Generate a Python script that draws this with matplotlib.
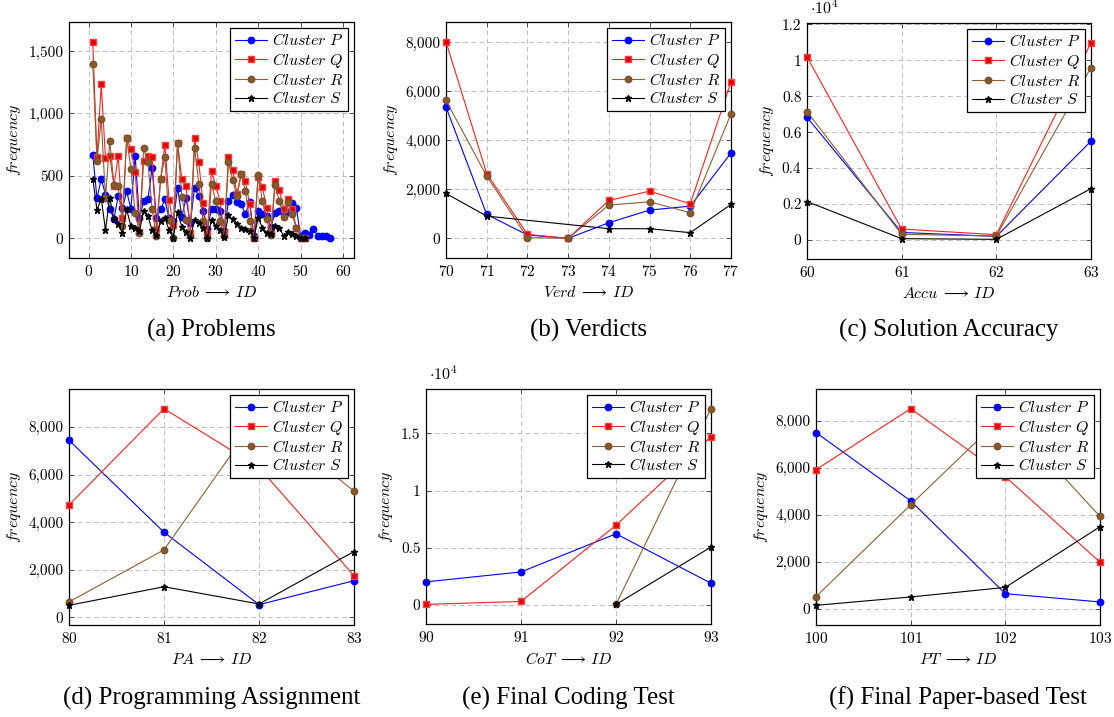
import numpy as np
import matplotlib
matplotlib.use("Agg")
import matplotlib.pyplot as plt
from matplotlib.ticker import FuncFormatter, FixedLocator

plt.rcParams['mathtext.fontset'] = 'cm'
plt.rcParams['font.family'] = ['cmr10', 'DejaVu Serif']
plt.rcParams['axes.formatter.use_mathtext'] = True

# ---------------- data ----------------
# (a) Problems
prob_ids_p = list(range(1, 58))
prob_ids_qrs = list(range(1, 52))
prob_p = [670, 320, 476, 350, 236, 157, 337, 239, 377, 236, 661, 159, 297, 311, 563, 159, 231, 311, 159, 138,
          404, 173, 324, 119, 404, 337, 218, 72, 236, 235, 215, 60, 297, 345, 289, 271, 196, 292, 19, 218,
          191, 178, 93, 204, 218, 218, 210, 284, 244, 19, 45, 30, 77, 22, 20, 15, 5]
prob_q = [1575, 652, 1232, 644, 661, 422, 661, 165, 802, 714, 531, 53, 619, 661, 648, 77, 475, 749, 303, 106,
          767, 475, 422, 45, 802, 608, 279, 45, 536, 420, 300, 40, 648, 544, 358, 518, 457, 271, 0, 491,
          412, 244, 45, 457, 390, 236, 316, 236, 85, 5, 5]
prob_r = [1399, 622, 955, 324, 780, 430, 417, 98, 802, 555, 204, 45, 722, 608, 231, 19, 475, 650, 143, 5,
          767, 329, 146, 19, 727, 438, 135, 5, 435, 300, 140, 15, 608, 470, 337, 512, 377, 138, 0, 510,
          297, 151, 24, 427, 297, 173, 289, 191, 85, 5, 5]
prob_s = [479, 226, 319, 66, 324, 155, 111, 45, 231, 98, 80, 58, 218, 178, 66, 24, 138, 165, 66, 5,
          210, 93, 50, 5, 146, 125, 85, 5, 143, 95, 70, 10, 186, 151, 111, 85, 72, 58, 0, 165,
          85, 45, 32, 98, 85, 19, 53, 32, 19, 5, 5]

# (b) Verdicts
verd_ids = [70, 71, 72, 73, 74, 75, 76, 77]
verd_p = [5357, 976, 136, 0, 637, 1153, 1315, 3485]
verd_q = [8027, 2644, 163, 0, 1546, 1925, 1410, 6387]
verd_r = [5627, 2536, 27, 0, 1356, 1492, 1044, 5085]
verd_s = [1831, 908, np.nan, np.nan, 393, 393, 231, 1383]

# (c) Solution Accuracy
accu_ids = [60, 61, 62, 63]
accu_p = [6830, 420, 200, 5500]
accu_q = [10190, 609, 295, 10981]
accu_r = [7143, 314, 221, 9598]
accu_s = [2141, 74, 37, 2860]

# (d) Programming Assignment
pa_ids = [80, 81, 82, 83]
pa_p = [7441, 3575, 532, 1537]
pa_q = [4720, 8768, 6300, 1746]
pa_r = [645, 2835, 8500, 5300]
pa_s = [503, 1285, 560, 2764]

# (e) Final Coding Test
cot_ids = [90, 91, 92, 93]
cot_p = [2027, 2896, 6226, 1911]
cot_q = [60, 319, 6977, 14711]
cot_r = [np.nan, np.nan, 58, 17169]
cot_s = [np.nan, np.nan, 58, 5067]

# (f) Final Paper-based Test
pt_ids = [100, 101, 102, 103]
pt_p = [7505, 4597, 648, 296]
pt_q = [5926, 8520, 5630, 1989]
pt_r = [521, 4428, 8300, 3936]
pt_s = [152, 508, 915, 3497]

series_names = [r'$Cluster\ P$', r'$Cluster\ Q$', r'$Cluster\ R$', r'$Cluster\ S$']
captions = ['(a) Problems', '(b) Verdicts', '(c) Solution Accuracy',
            '(d) Programming Assignment', '(e) Final Coding Test', '(f) Final Paper-based Test']
xlabels = [r'$Prob\;\longrightarrow\,ID$', r'$Verd\;\longrightarrow\,ID$', r'$Accu\;\longrightarrow\,ID$',
           r'$PA\;\longrightarrow\,ID$', r'$CoT\;\longrightarrow\,ID$', r'$PT\;\longrightarrow\,ID$']

# ---------------- styles ----------------
BROWN = '#8b5a2b'
styles = [
    dict(color='#0000ff', marker='o', markersize=4.6, markerfacecolor='#0000ff', markeredgecolor='#0000ff'),
    dict(color='#ff2020', marker='s', markersize=4.6, markerfacecolor='#e00000', markeredgecolor='#ff4040'),
    dict(color='#8c5f35', marker='o', markersize=4.6, markerfacecolor=BROWN, markeredgecolor='#7a5028'),
    dict(color='black', marker='*', markersize=4.5, markerfacecolor='black', markeredgecolor='black'),
]

W, H = 1114, 717
fig = plt.figure(figsize=(W / 100, H / 100), dpi=100)


def rect(l, t, r, b):
    return [l / W, 1 - b / H, (r - l) / W, (b - t) / H]


boxes = [(69, 22, 354, 258), (446, 22, 731, 258), (807, 23, 1091, 259),
         (69, 389, 354, 625), (426, 389, 711, 624), (816, 389, 1100, 625)]

panels = [
    ([prob_ids_p, prob_ids_qrs, prob_ids_qrs, prob_ids_qrs], [prob_p, prob_q, prob_r, prob_s]),
    ([verd_ids] * 4, [verd_p, verd_q, verd_r, verd_s]),
    ([accu_ids] * 4, [accu_p, accu_q, accu_r, accu_s]),
    ([pa_ids] * 4, [pa_p, pa_q, pa_r, pa_s]),
    ([cot_ids] * 4, [cot_p, cot_q, cot_r, cot_s]),
    ([pt_ids] * 4, [pt_p, pt_q, pt_r, pt_s]),
]

comma_fmt = FuncFormatter(lambda v, p: f'{int(round(v)):,}')
sci_fmt = FuncFormatter(lambda v, p: (f'{v/1e4:g}'))

for i, (box, (xs, ys)) in enumerate(zip(boxes, panels)):
    ax = fig.add_axes(rect(*box))
    for x, y, st, name in zip(xs, ys, styles, series_names):
        x = np.asarray(x, float)
        y = np.asarray(y, float)
        m = ~np.isnan(y)
        ax.plot(x[m], y[m], lw=0.8, label=name, zorder=3, clip_on=False, **st)
    ax.margins(x=0.1 if i == 0 else 0.0, y=0.1)
    ax.grid(True, color='#bdbdbd', linestyle=(0, (5, 3.5)), linewidth=0.7, zorder=0)
    ax.set_axisbelow(True)
    ax.tick_params(direction='in', top=True, right=True, length=3.5, width=0.6,
                   labelsize=11, pad=4, color='#333333')
    for sp in ax.spines.values():
        sp.set_linewidth(0.9)
    if i == 0:
        ax.xaxis.set_major_locator(FixedLocator([0, 10, 20, 30, 40, 50, 60]))
        ax.yaxis.set_major_locator(FixedLocator([0, 500, 1000, 1500]))
        ax.yaxis.set_major_formatter(comma_fmt)
    else:
        ax.xaxis.set_major_locator(FixedLocator(xs[0]))
        if i in (2, 4):
            ticks = [0, 2000, 4000, 6000, 8000, 10000, 12000] if i == 2 else [0, 5000, 10000, 15000]
            ax.yaxis.set_major_locator(FixedLocator(ticks))
            ax.yaxis.set_major_formatter(sci_fmt)
            ax.text(0.01, 1.025, r'$\cdot 10^4$', transform=ax.transAxes, fontsize=11.5,
                    ha='left', va='bottom')
        else:
            ax.yaxis.set_major_locator(FixedLocator([0, 2000, 4000, 6000, 8000]))
            ax.yaxis.set_major_formatter(comma_fmt)
    ax.set_xlabel(xlabels[i], fontsize=11.5, labelpad=5)
    ax.set_ylabel(r'$frequency$', fontsize=11.5, labelpad=4)
    leg = ax.legend(loc='upper right', fontsize=11.5, frameon=True, fancybox=False,
                    framealpha=1, edgecolor='black', borderaxespad=0.35, handlelength=2.0,
                    handletextpad=0.3, labelspacing=0.14, borderpad=0.3)
    leg.get_frame().set_linewidth(0.9)
    leg.set_zorder(10)
    cx = (box[0] + box[2]) / 2 / W
    cy = 1 - (330 if i < 3 else 698) / H
    fig.text(cx, cy, captions[i], ha='center', va='center', fontsize=18,
             family=['Liberation Serif', 'DejaVu Serif'])

fig.savefig('out.png', dpi=100)
